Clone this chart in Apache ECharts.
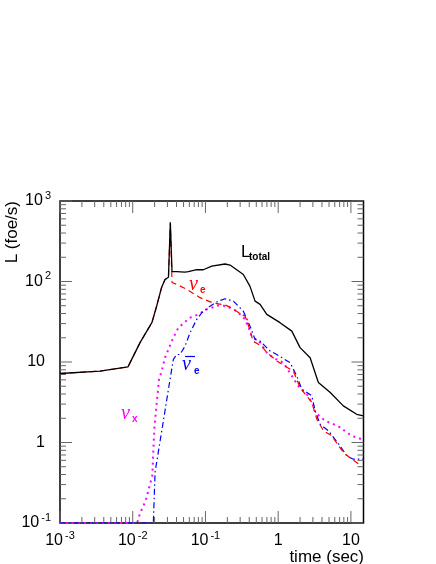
<!DOCTYPE html>
<html><head><meta charset="utf-8">
<script src="https://cdn.jsdelivr.net/npm/echarts@6/dist/echarts.min.js"></script>
<style>html,body{margin:0;padding:0;background:#fff}#c{width:436px;height:564px}</style>
</head><body><div id="c"></div>
<script>
// ---- data (time in sec, luminosity in foe/s) ----
const totalT = [0.001, 0.00355, 0.0086, 0.0126, 0.0184, 0.0214, 0.025, 0.0278, 0.031, 0.0329, 0.0347, 0.0403, 0.052, 0.0582, 0.0759, 0.0935, 0.122, 0.186, 0.218, 0.332, 0.41, 0.481, 0.564, 0.697, 1.06, 1.54, 2.0, 2.75, 3.57, 5.2, 7.87, 12, 14.9];
const totalL = [7.2, 7.7, 8.7, 17.4, 31, 50, 85, 106, 113, 543, 133, 133, 131, 133, 140, 140, 155, 165, 160, 122, 87, 57, 52, 39, 30.8, 24.2, 15.1, 11.3, 5.56, 4.17, 2.85, 2.24, 2.14];

const nueT = [0.001, 0.00355, 0.0086, 0.0126, 0.0184, 0.0214, 0.025, 0.0278, 0.031, 0.0329, 0.0347, 0.0403, 0.0553, 0.0843, 0.1285, 0.186, 0.218, 0.281, 0.352, 0.41, 0.45, 0.59, 0.70, 0.96, 1.12, 1.62, 2.0, 2.9, 3.4, 4.19, 5.46, 7.89, 9.6, 14.0];
const nueL = [7.2, 7.7, 8.7, 17.4, 31, 50, 85, 106, 112, 530, 97, 92, 80, 63, 54, 51, 48, 41.4, 37, 25, 18.2, 15.8, 13.1, 10.3, 9.4, 7.7, 4.8, 3.14, 1.95, 1.40, 1.21, 0.75, 0.65, 0.51];

const nuebarT = [0.001, 0.0192, 0.0203, 0.0264, 0.0326, 0.0362, 0.0403, 0.0446, 0.0525, 0.0614, 0.0759, 0.089, 0.1156, 0.150, 0.186, 0.242, 0.332, 0.41, 0.481, 0.564, 0.773, 0.955, 1.46, 1.80, 2.11, 2.9, 3.22, 3.77, 4.9, 7.1, 8.79, 10.8, 14.9];
const nuebarL = [0.1, 0.1, 0.43, 1.86, 6.1, 10.8, 12.4, 12.4, 15.8, 23.1, 33.9, 40.9, 49.4, 57, 61, 57, 42.8, 27.9, 19.1, 18.2, 13.7, 12.4, 9.8, 6.7, 4.6, 3.8, 2.47, 1.69, 1.40, 0.91, 0.68, 0.62, 0.62];

const nuxT = [0.001, 0.0115, 0.0126, 0.0151, 0.0186, 0.0192, 0.0198, 0.0214, 0.023, 0.025, 0.0278, 0.031, 0.0344, 0.0424, 0.0614, 0.0798, 0.104, 0.150, 0.195, 0.27, 0.351, 0.41, 0.43, 0.564, 0.697, 0.859, 1.18, 1.9, 2.6, 3.05, 3.23, 4.43, 5.74, 7.1, 8.79, 10.8, 14.9];
const nuxL = [0.1, 0.1, 0.132, 0.19, 0.39, 0.79, 1.47, 3.14, 6.1, 7.7, 11.3, 14.4, 18.2, 26.7, 35.5, 39, 45, 50.5, 49.4, 42.8, 33.9, 24.2, 21, 17.4, 13.1, 11.3, 9.8, 5.0, 3.8, 2.85, 2.36, 1.86, 1.69, 1.54, 1.33, 1.19, 1.08];

const xTickValues = [0.001, 0.01, 0.1, 1, 10];
const xTickLabels = ['10^-3', '10^-2', '10^-1', '1', '10'];
const yTickValues = [0.1, 1, 10, 100, 1000];
const yTickLabels = ['10^-1', '1', '10', '10^2', '10^3'];

const X_MIN = 0.001, X_MAX = 14.9, Y_MIN = 0.1, Y_MAX = 1000;
const FONT = 'Liberation Sans';

function zip(a, b) { return a.map((t, i) => [t, b[i]]); }
function fmt(v, vals, labs) {
  for (let i = 0; i < vals.length; i++) {
    if (Math.abs(Math.log10(v) - Math.log10(vals[i])) < 1e-6) {
      const s = labs[i]; const k = s.indexOf('^');
      if (k < 0) return '{p|' + s + '}';
      return '{b|' + s.slice(0, k) + '}{s|' + s.slice(k + 1) + '}';
    }
  }
  return '';
}
// tick positions (major at decades, minor at 2..9)
function minorTicks(lo, hi) {
  const out = [];
  for (let d = Math.floor(Math.log10(lo)); d <= Math.ceil(Math.log10(hi)); d++)
    for (let k = 2; k <= 9; k++) { const v = k * Math.pow(10, d); if (v > lo && v < hi) out.push(v); }
  return out;
}
const xTicks = xTickValues.map(v => [v, Y_MIN, 12]).concat(minorTicks(X_MIN, X_MAX).map(v => [v, Y_MIN, 6]));
const yTicks = yTickValues.map(v => [X_MIN, v, 12]).concat(minorTicks(Y_MIN, Y_MAX).map(v => [X_MIN, v, 6]));

const chart = echarts.init(document.getElementById('c'), null, { renderer: 'canvas' });
const rich = {
  b: { fontSize: 16, fontFamily: FONT, color: '#000', lineHeight: 22 },
  s: { fontSize: 11, fontFamily: FONT, color: '#000', lineHeight: 10, verticalAlign: 'top', padding: [0, 0, 0, 2] },
  p: { fontSize: 16, fontFamily: FONT, color: '#000', lineHeight: 22 }
};
const richY = {
  b: rich.b, s: rich.s,
  p: { fontSize: 16, fontFamily: FONT, color: '#000', lineHeight: 22, padding: [0, 6, 0, 0] }
};
const TICK_COLOR = '#666';

chart.setOption({
  animation: false,
  backgroundColor: '#fff',
  grid: { left: 60, top: 201, width: 303.5, height: 322, show: true, borderColor: '#000', borderWidth: 1.5, backgroundColor: 'transparent' },
  xAxis: {
    type: 'log', logBase: 10, min: X_MIN, max: X_MAX,
    axisLine: { show: false }, axisTick: { show: false }, splitLine: { show: false },
    axisLabel: { margin: 7, formatter: v => fmt(v, xTickValues, xTickLabels), rich: rich, showMaxLabel: false }
  },
  yAxis: {
    type: 'log', logBase: 10, min: Y_MIN, max: Y_MAX,
    axisLine: { show: false }, axisTick: { show: false }, splitLine: { show: false },
    axisLabel: { margin: 9, formatter: v => fmt(v, yTickValues, yTickLabels), rich: richY }
  },
  series: [
    { type: 'custom', silent: true, clip: false, data: xTicks, encode: { x: 0, y: 1 }, z: 1,
      renderItem: function (params, api) {
        const v = api.value(0), len = api.value(2);
        const b = api.coord([v, Y_MIN]), t = api.coord([v, Y_MAX]);
        return { type: 'group', children: [
          { type: 'line', shape: { x1: b[0], y1: b[1], x2: b[0], y2: b[1] - len }, style: { stroke: TICK_COLOR, lineWidth: 1 } },
          { type: 'line', shape: { x1: t[0], y1: t[1], x2: t[0], y2: t[1] + len }, style: { stroke: TICK_COLOR, lineWidth: 1 } }
        ] };
      } },
    { type: 'custom', silent: true, clip: false, data: yTicks, encode: { x: 0, y: 1 }, z: 1,
      renderItem: function (params, api) {
        const v = api.value(1), len = api.value(2);
        const l = api.coord([X_MIN, v]), r = api.coord([X_MAX, v]);
        return { type: 'group', children: [
          { type: 'line', shape: { x1: l[0], y1: l[1], x2: l[0] + len, y2: l[1] }, style: { stroke: TICK_COLOR, lineWidth: 1 } },
          { type: 'line', shape: { x1: r[0], y1: r[1], x2: r[0] - len, y2: r[1] }, style: { stroke: TICK_COLOR, lineWidth: 1 } }
        ] };
      } },
    { name: 'nux', type: 'line', data: zip(nuxT, nuxL), symbol: 'none', z: 2,
      lineStyle: { color: '#ff00ff', width: 2, type: [2, 4] } },
    { name: 'nuebar', type: 'line', data: zip(nuebarT, nuebarL), symbol: 'none', z: 3,
      lineStyle: { color: '#0000ff', width: 1.2, type: [6, 3, 1.5, 3] } },
    { name: 'nue', type: 'line', data: zip(nueT, nueL), symbol: 'none', z: 4,
      lineStyle: { color: '#ff0000', width: 1.2, type: [6, 4] } },
    { name: 'total', type: 'line', data: zip(totalT, totalL), symbol: 'none', z: 5,
      lineStyle: { color: '#000', width: 1.3, type: 'solid' } }
  ],
  graphic: [
    { type: 'text', x: 12, y: 201, rotation: Math.PI / 2,
      style: { text: 'L (foe/s)', font: '17px "Liberation Sans"', fill: '#000', align: 'right', verticalAlign: 'middle' } },
    { type: 'text', x: 364, y: 557,
      style: { text: 'time (sec)', font: '17px "Liberation Sans"', fill: '#000', align: 'right', verticalAlign: 'middle' } },
    { type: 'text', x: 241, y: 252,
      style: { text: 'L', font: '17px "Liberation Sans"', fill: '#000', align: 'left', verticalAlign: 'middle' } },
    { type: 'text', x: 249, y: 257,
      style: { text: 'total', font: 'bold 10px "Liberation Sans"', fill: '#000', align: 'left', verticalAlign: 'middle' } },
    { type: 'text', x: 189, y: 285,
      style: { text: 'ν', font: 'italic 20px "Liberation Serif"', fill: '#ff0000', align: 'left', verticalAlign: 'middle' } },
    { type: 'text', x: 200, y: 290,
      style: { text: 'e', font: 'bold 10px "Liberation Sans"', fill: '#ff0000', align: 'left', verticalAlign: 'middle' } },
    { type: 'line', shape: { x1: 185, y1: 356.5, x2: 195, y2: 356.5 }, style: { stroke: '#0000ff', lineWidth: 1.2 } },
    { type: 'text', x: 182, y: 365,
      style: { text: 'ν', font: 'italic 20px "Liberation Serif"', fill: '#0000ff', align: 'left', verticalAlign: 'middle' } },
    { type: 'text', x: 194, y: 371,
      style: { text: 'e', font: 'bold 10px "Liberation Sans"', fill: '#0000ff', align: 'left', verticalAlign: 'middle' } },
    { type: 'text', x: 121, y: 414,
      style: { text: 'ν', font: 'italic 20px "Liberation Serif"', fill: '#ff00ff', align: 'left', verticalAlign: 'middle' } },
    { type: 'text', x: 132, y: 419,
      style: { text: 'x', font: 'bold 10px "Liberation Sans"', fill: '#ff00ff', align: 'left', verticalAlign: 'middle' } }
  ]
});
</script>
</body></html>
